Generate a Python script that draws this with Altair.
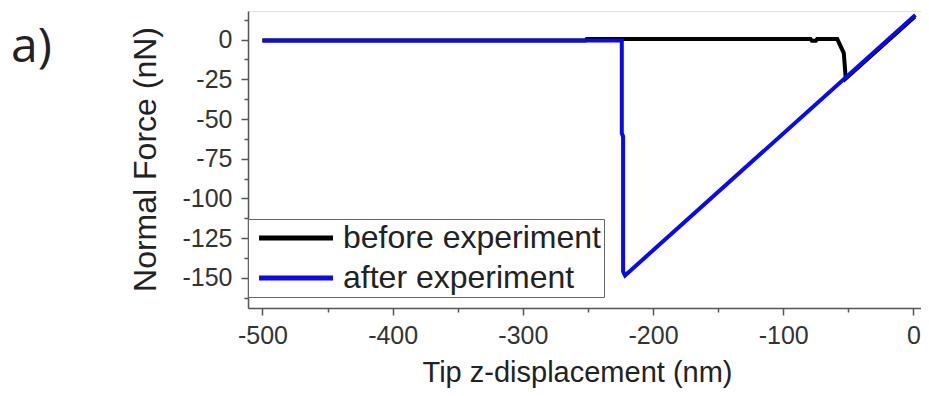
import altair as alt
import pandas as pd

# ---- data ----
before_x = [-500, -252, -251, -79, -78, -75, -74, -58.5, -53.5, -52, 1]
before_y = [-0.5, -0.5, 0.3, 0.3, -0.8, -0.8, 0.3, 0.3, -8.5, -24.5, 14.3]
after_x = [-500, -224, -224, -223, -223, -221.5, 1.5]
after_y = [-0.5, -0.5, -59, -61, -146, -148.5, 15.5]
series = ["before experiment", "after experiment"]
colors = ["#000000", "#0a0aee"]
x_ticks = [-500, -450, -400, -350, -300, -250, -200, -150, -100, -50, 0]
y_ticks = [12.5, 0, -12.5, -25, -37.5, -50, -62.5, -75, -87.5, -100,
           -112.5, -125, -137.5, -150, -162.5]
panel_label = ["a)"]

df_b = pd.DataFrame({"x": before_x, "y": before_y, "s": series[0],
                     "i": list(range(len(before_x)))})
df_a = pd.DataFrame({"x": after_x, "y": after_y, "s": series[1],
                     "i": list(range(len(after_x)))})

FONT = "Liberation Sans"
AX = "#555555"
TXT = "#222222"

xscale = alt.Scale(domain=[-511.1, 5.8], nice=False, zero=False)
yscale = alt.Scale(domain=[-169, 18], nice=False, zero=False)

x_axis = alt.Axis(
    values=x_ticks,
    labelExpr="datum.value % 100 === 0 ? '' + datum.value : ''",
    tickSize={"condition": {"test": "datum.value % 100 === 0", "value": 7}, "value": 4},
    title="Tip z-displacement (nm)", titleFontSize=29, titleFont=FONT,
    titleColor=TXT, titleFontWeight="normal",
    titleX=329, titleY=73, titleBaseline="alphabetic", titleAlign="center",
    labelFontSize=25, labelFont=FONT, labelColor="#333333", labelPadding=8,
    labelFlush=False, labelOverlap=False, grid=False,
    domainColor=AX, domainWidth=1.5, tickColor=AX, tickWidth=1.5,
)
y_axis = alt.Axis(
    values=y_ticks,
    labelExpr="datum.value % 25 === 0 ? '' + datum.value : ''",
    tickSize={"condition": {"test": "datum.value % 25 === 0", "value": 7}, "value": 4},
    title="Normal Force (nN)", titleFontSize=32, titleFont=FONT,
    titleColor=TXT, titleFontWeight="normal",
    titleX=-86, titleY=148, titleBaseline="bottom", titleAlign="center", titleAngle=270,
    labelFontSize=25, labelFont=FONT, labelColor="#333333", labelPadding=9,
    labelFlush=False, labelOverlap=False, grid=False,
    domainColor=AX, domainWidth=1.5, tickColor=AX, tickWidth=1.5,
)

color = alt.Color(
    "s:N",
    scale=alt.Scale(domain=series, range=colors),
    legend=alt.Legend(
        title=None, orient="none", legendX=0, legendY=208,
        symbolType="M-0.86,0H7.14", symbolSize=342, symbolStrokeWidth=5,
        labelFontSize=32, labelFont=FONT, labelColor=TXT, labelLimit=500,
        labelExpr="datum.label + '\u00a0'",
        labelOffset=60, padding=3, rowPadding=8,
        strokeColor="#666666", fillColor="white",
    ),
)

def line(df):
    return alt.Chart(df).mark_line(strokeWidth=4, clip=True).encode(
        x=alt.X("x:Q", scale=xscale, axis=x_axis),
        y=alt.Y("y:Q", scale=yscale, axis=y_axis),
        color=color,
        order="i:Q",
    )

label = alt.Chart(pd.DataFrame({"t": panel_label})).mark_text(
    font="Open Sans", fontSize=48, align="left", baseline="alphabetic", color=TXT
).encode(text="t:N", x=alt.value(-237), y=alt.value(51))

chart = alt.layer(line(df_b), line(df_a), label).properties(
    width=673, height=297,
    autosize=alt.AutoSizeParams(type="none"),
    padding={"left": 240, "top": 3, "right": 0, "bottom": 80},
).configure_view(stroke="#666666", strokeWidth=1.5).configure(background="white")

chart.save("out.html", embed_options={"renderer": "svg", "actions": False})
